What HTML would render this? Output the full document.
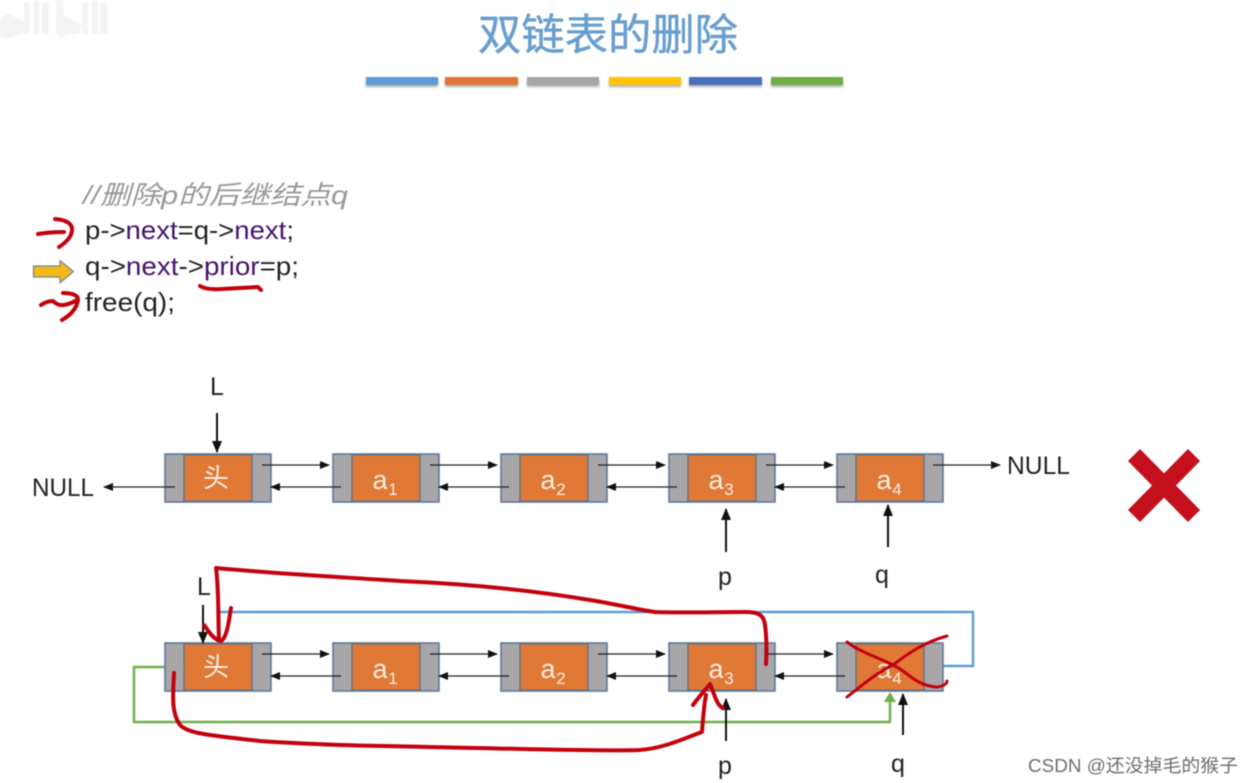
<!DOCTYPE html>
<html><head><meta charset="utf-8"><style>
html,body{margin:0;padding:0;background:#fff}
svg{display:block;filter:blur(0.4px)}
.f{font-family:"Liberation Sans","Noto Sans CJK SC",sans-serif}
.r{fill:none;stroke:#c4000c;stroke-width:4;stroke-linecap:round;stroke-linejoin:round}
.l{stroke:#222;stroke-width:1.2}
.k{stroke:#111;stroke-width:2}
</style></head><body>
<svg width="1253" height="783" viewBox="0 0 1253 783" xmlns="http://www.w3.org/2000/svg" class="f">
<defs>
<g id="n">
<rect x="0" y="0" width="106" height="48" fill="#a9a6a9" stroke="#5b7c9c" stroke-width="1.6"/>
<rect x="19" y="0.8" width="68" height="46.4" fill="#e07836" stroke="#5f7385" stroke-width="1.4"/>
</g>
<marker id="a" markerWidth="10" markerHeight="10" refX="9" refY="4" orient="auto" markerUnits="userSpaceOnUse"><path d="M0 0L10 4L0 8Z" fill="#111"/></marker>
<marker id="b" markerWidth="12" markerHeight="12" refX="11" refY="5" orient="auto" markerUnits="userSpaceOnUse"><path d="M0 0L12 5L0 10Z" fill="#111"/></marker>
<filter id="s" x="-10%" y="-50%" width="120%" height="220%"><feDropShadow dx="0" dy="2" stdDeviation="1.2" flood-color="#777" flood-opacity=".6"/></filter>
</defs>

<!-- watermark -->
<g fill="#f4f4f4">
<path d="M0 18L8 14L26 22L25 32L10 38L0 36Z"/>
<rect x="24" y="2" width="5" height="32"/><rect x="34" y="1" width="5" height="33"/><rect x="42" y="3" width="7" height="31"/>
<path d="M56 0L63 0L64 16L82 24L80 33L60 37L56 34Z"/>
<rect x="82" y="3" width="6" height="31"/><rect x="92" y="1" width="6" height="33"/><rect x="100" y="3" width="7" height="31"/>
</g>

<!-- title -->
<text x="608" y="50" text-anchor="middle" font-size="43" fill="#689fcf" stroke="#689fcf" stroke-width="0.5" textLength="260" lengthAdjust="spacingAndGlyphs" style='font-family:"Noto Sans CJK SC",sans-serif'>双链表的删除</text>
<g filter="url(#s)">
<rect x="366" y="77" width="72" height="8" fill="#5b9bd5"/>
<rect x="445" y="77" width="73" height="8" fill="#e07636"/>
<rect x="527" y="77" width="72" height="8" fill="#a5a5a5"/>
<rect x="609" y="77" width="72" height="8" fill="#fcc30a"/>
<rect x="689" y="77" width="73" height="8" fill="#4a70bb"/>
<rect x="771" y="77" width="72" height="8" fill="#70ad47"/>
</g>

<!-- code -->
<text x="83" y="204" font-size="26" font-style="italic" fill="#999" textLength="265" lengthAdjust="spacingAndGlyphs">//删除p的后继结点q</text>
<text x="85" y="239" font-size="26" fill="#222" textLength="209" lengthAdjust="spacingAndGlyphs">p-&gt;<tspan fill="#44146e">next</tspan>=q-&gt;<tspan fill="#44146e">next</tspan>;</text>
<text x="85" y="275" font-size="26" fill="#222" textLength="214" lengthAdjust="spacingAndGlyphs">q-&gt;<tspan fill="#44146e">next</tspan>-&gt;<tspan fill="#44146e">prior</tspan>=p;</text>
<text x="85" y="311" font-size="26" fill="#222" textLength="90" lengthAdjust="spacingAndGlyphs">free(q);</text>

<path d="M33.500 266H60V260.500L73.500 271.500L60 283V277H33.500Z" fill="#f4b916" stroke="#6f8a9c" stroke-width="1.200"/>
<path class="r" d="M38 234Q50 232 64 232"/>
<path class="r" d="M55 219Q70 220 72 228Q73 238 59 247"/>
<path class="r" d="M41 305Q47 301 53 301Q58 306 64 305Q70 304 75 301"/>
<path class="r" d="M63 293Q78 293 78 300Q76 312 62 320"/>
<path class="r" d="M200 286Q206 290 222 289Q240 288 258 287L261 290"/>

<!-- Row 1 -->
<use href="#n" x="165" y="454"/><use href="#n" x="333" y="454"/><use href="#n" x="501" y="454"/><use href="#n" x="669" y="454"/><use href="#n" x="837" y="454"/>
<g font-size="27" fill="#fbeee2" text-anchor="middle">
<text x="216" y="487" font-size="26" style='font-family:"Noto Sans CJK SC",sans-serif'>头</text>
<text x="380" y="489">a</text><text x="548" y="489">a</text><text x="716" y="489">a</text><text x="884" y="489">a</text>
<g font-size="17"><text x="393" y="495">1</text><text x="561" y="495">2</text><text x="729" y="495">3</text><text x="897" y="495">4</text></g>
</g>
<g class="l">
<line x1="262" y1="465" x2="329" y2="465" marker-end="url(#a)"/><line x1="430" y1="465" x2="497" y2="465" marker-end="url(#a)"/><line x1="598" y1="465" x2="665" y2="465" marker-end="url(#a)"/><line x1="766" y1="465" x2="833" y2="465" marker-end="url(#a)"/><line x1="933" y1="465" x2="1000" y2="465" marker-end="url(#a)"/>
<line x1="341" y1="487" x2="271" y2="487" marker-end="url(#a)"/><line x1="509" y1="487" x2="439" y2="487" marker-end="url(#a)"/><line x1="677" y1="487" x2="607" y2="487" marker-end="url(#a)"/><line x1="845" y1="487" x2="775" y2="487" marker-end="url(#a)"/><line x1="175" y1="487" x2="104" y2="487" marker-end="url(#a)"/>
</g>
<line class="k" x1="217" y1="413" x2="217" y2="452" marker-end="url(#b)"/>
<line class="k" x1="726" y1="552" x2="726" y2="509" marker-end="url(#b)"/>
<line class="k" x1="888" y1="547" x2="888" y2="505" marker-end="url(#b)"/>
<g font-size="25" fill="#222">
<text x="32" y="496" textLength="62" lengthAdjust="spacingAndGlyphs">NULL</text>
<text x="1007" y="474" textLength="63" lengthAdjust="spacingAndGlyphs">NULL</text>
<text x="217" y="395" text-anchor="middle">L</text>
<text x="725" y="585" text-anchor="middle">p</text>
<text x="882" y="583" text-anchor="middle">q</text>
</g>

<!-- Big X -->
<g stroke="#c4101c" stroke-width="17"><line x1="1134" y1="455" x2="1194" y2="516"/><line x1="1194" y1="455" x2="1134" y2="516"/></g>

<!-- Row 2 -->
<polyline points="943,666 973,666 973,612 218,612" fill="none" stroke="#5b9bd5" stroke-width="2.400"/>
<polyline points="165,667 134,667 134,722 890,722 890,700" fill="none" stroke="#70ad47" stroke-width="2.400"/>
<path d="M884 702L890 692L896 702Z" fill="#70ad47"/>
<use href="#n" x="165" y="643"/><use href="#n" x="333" y="643"/><use href="#n" x="501" y="643"/><use href="#n" x="669" y="643"/><use href="#n" x="837" y="643"/>
<g font-size="27" fill="#fbeee2" text-anchor="middle">
<text x="216" y="676" font-size="26" style='font-family:"Noto Sans CJK SC",sans-serif'>头</text>
<text x="380" y="678">a</text><text x="548" y="678">a</text><text x="716" y="678">a</text><text x="884" y="678">a</text>
<g font-size="17"><text x="393" y="684">1</text><text x="561" y="684">2</text><text x="729" y="684">3</text><text x="897" y="684">4</text></g>
</g>
<g class="l">
<line x1="262" y1="654" x2="329" y2="654" marker-end="url(#a)"/><line x1="430" y1="654" x2="497" y2="654" marker-end="url(#a)"/><line x1="598" y1="654" x2="665" y2="654" marker-end="url(#a)"/><line x1="766" y1="654" x2="833" y2="654" marker-end="url(#a)"/>
<line x1="341" y1="676" x2="271" y2="676" marker-end="url(#a)"/><line x1="509" y1="676" x2="439" y2="676" marker-end="url(#a)"/><line x1="677" y1="676" x2="607" y2="676" marker-end="url(#a)"/><line x1="845" y1="676" x2="775" y2="676" marker-end="url(#a)"/>
</g>
<line class="k" x1="203" y1="605" x2="203" y2="643" marker-end="url(#b)"/>
<line class="k" x1="726" y1="741" x2="726" y2="699" marker-end="url(#b)"/>
<line class="k" x1="903" y1="735" x2="903" y2="694" marker-end="url(#b)"/>
<g font-size="25" fill="#222">
<text x="204" y="595" text-anchor="middle">L</text>
<text x="725" y="774" text-anchor="middle">p</text>
<text x="898" y="772" text-anchor="middle">q</text>
</g>

<!-- red annotations -->
<path class="r" d="M766 664C767 645 766 632 765 625C764 614 757 612 745 612C715 612 680 613 655 612C640 610 620 605 590 600C530 590 470 584 400 581C340 577 280 574 216 568C219 590 218 620 219 640"/>
<path class="r" d="M204 625C209 632 214 640 221 641C227 638 229 620 231 608"/>
<path class="r" d="M174 673C173 695 171 712 180 725C188 733 205 735 260 741C330 746 400 746 520 749C570 750 610 751 640 750C665 748 685 738 702 732C703 718 704 705 706 695"/>
<path class="r" d="M693 705C698 698 705 690 710 684C714 692 716 705 723 708"/>
<path class="r" style="stroke-width:3" d="M847 642C860 652 875 656 893 665C908 672 915 685 936 687C942 687 947 684 947 681"/>
<path class="r" style="stroke-width:3" d="M847 697C865 683 878 672 893 665C910 652 925 642 947 636"/>

<!-- CSDN -->
<text x="1028" y="772" font-size="18" fill="#6d6d6d" textLength="210" lengthAdjust="spacingAndGlyphs">CSDN @还没掉毛的猴子</text>
</svg>
</body></html>
